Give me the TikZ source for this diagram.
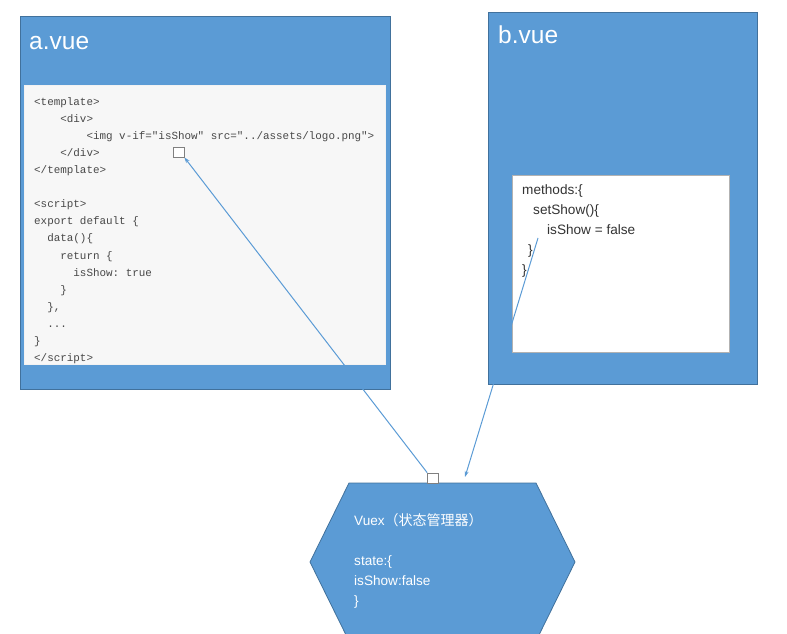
\documentclass[tikz,border=0pt]{standalone}
\usepackage{fontspec}
\setmainfont{Liberation Sans}
\setmonofont{Liberation Mono}
\newfontfamily\cjk{Noto Sans CJK SC}
\usetikzlibrary{arrows.meta}
\definecolor{vueblue}{HTML}{5B9BD5}
\definecolor{vueedge}{HTML}{41719C}
\definecolor{codegray}{HTML}{484848}
\definecolor{panelgray}{HTML}{F7F7F7}
\newcommand\ind[1]{\hspace*{#1\dimexpr0.6em\relax}}

\begin{document}
\begin{tikzpicture}[x=1pt,y=-1pt,
		filebox/.style={draw=vueedge,fill=vueblue,line width=0.8pt,anchor=north west,inner sep=0pt},
		panel/.style={anchor=north west,inner sep=0pt,line width=0.8pt},
		title/.style={anchor=base west,inner sep=0pt,text=white,font=\fontsize{24.5}{28}\selectfont},
		marker/.style={draw=gray,fill=white,minimum width=11pt,minimum height=10pt,inner sep=0pt,line width=0.6pt},
		link/.style={draw=vueblue,line width=1pt,-{Stealth[length=6pt,width=4pt]}}]
		\useasboundingbox (0,0) rectangle (787,634);
		\clip (0,0) rectangle (787,634);
		% files
		\node [filebox,minimum width=370pt,minimum height=373pt] (a) at (20,16) {};
		\node [filebox,minimum width=269pt,minimum height=372pt] (b) at (488,12) {};
		\node [title] (atitle) at (29,49) {a.vue};
		\node [title] (btitle) at (498,44) {b.vue};
		\node [panel,fill=panelgray,draw=white!90!gray,minimum width=361pt,minimum height=279pt] (apanel) at (24,85) {};
		\node [panel,fill=white,draw=gray!60,minimum width=217pt,minimum height=177pt] (bpanel) at (512,175) {};
		% code
		\node [anchor=north west,inner sep=0pt,align=left,text=codegray,
			font=\ttfamily\fontsize{10.9}{17.1}\selectfont] (code) at (34,97) {%
			<template>\\
			\ind{4}<div>\\
			\ind{8}<img v-if="isShow" src="../assets/logo.png">\\
			\ind{4}</div>\\
			</template>\\[17.1pt]
			<script>\\
			export default \{\\
			\ind{2}data()\{\\
			\ind{4}return \{\\
			\ind{6}isShow: true\\
			\ind{4}\}\\
			\ind{2}\},\\
			\ind{2}...\\
			\}\\
			</script>};
		\node [anchor=north west,inner sep=0pt,align=left,text=black!80,
			font=\fontsize{13.6}{20}\selectfont] (method) at (522,184) {%
			methods:\{\\
			\hspace*{11pt}setShow()\{\\
			\hspace*{25pt}isShow = false\\
			\hspace*{6pt}\}\\
			\}};
		% vuex
		\draw [draw=vueedge,fill=vueblue,line width=0.8pt]
			(349,483) coordinate (vtl) -- (536,483) coordinate (vtr) -- (575,562) -- (536,641)
			-- (349,641) -- (310,562) -- cycle;
		\node [anchor=north west,inner sep=0pt,align=left,text=white,
			font=\fontsize{13.6}{20}\selectfont] (store) at (354,513) {%
			Vuex{\cjk\fontsize{14}{20}\selectfont（状态管理器）}\\[20pt]
			state:\{\\
			isShow:false\\
			\}};
		% links
		\coordinate (bfrom) at (538,238);
		\coordinate (vto) at (465,477);
		\node [marker] (sqa) at (178.5,152) {};
		\node [marker] (sqv) at (433,478) {};
		\draw [link] (sqv.north west) -- (sqa.south east);
		\draw [link] (bfrom) -- (vto);
		\node [marker] at (sqa) {};
\end{tikzpicture}
\end{document}
